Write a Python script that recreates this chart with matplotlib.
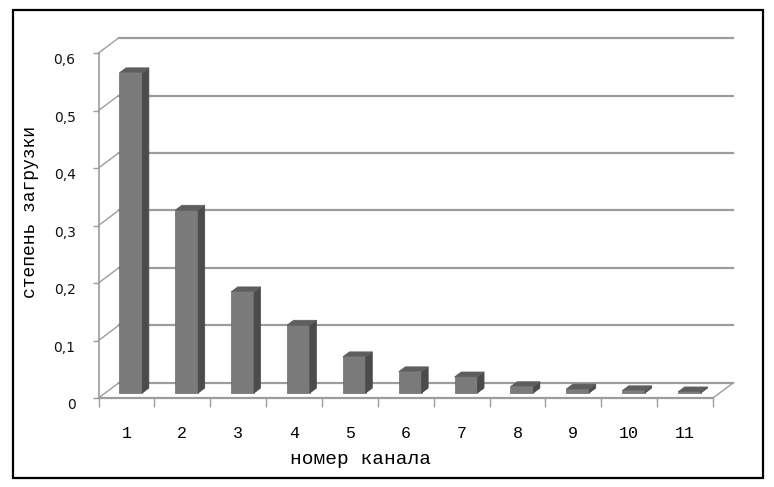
import matplotlib.pyplot as plt
from matplotlib.patches import Polygon, Rectangle

# -------------- data --------------
channels = list(range(1, 12))
load = [0.557, 0.318, 0.176, 0.118, 0.063, 0.037, 0.028, 0.011, 0.007, 0.004, 0.002]
y_ticks = [0, 0.1, 0.2, 0.3, 0.4, 0.5, 0.6]
y_labels = ['0', '0,1', '0,2', '0,3', '0,4', '0,5', '0,6']

# -------------- pseudo 3d settings --------------
DX = 0.358      # depth shift in category units
DY = 0.0261     # depth shift in value units
bar_w = 0.41
f0, f1 = 0.33, 0.66   # bar front / back depth fraction
grid_c = '#9c9c9c'

fig = plt.figure(figsize=(7.74, 4.87), dpi=100)
ax = fig.add_axes([0.1273, 0.18275, 0.7939, 0.7084])
ax.set_xlim(0.5, 11.5)
ax.set_ylim(0, 0.6)
ax.patch.set_alpha(0)
for s in ['top', 'right', 'bottom']:
    ax.spines[s].set_visible(False)
ax.spines['left'].set_color(grid_c)
ax.spines['left'].set_linewidth(1.2)

# back wall gridlines + side wall diagonals
for v in y_ticks:
    ax.plot([0.5 + DX, 11.5 + DX], [v + DY, v + DY], color=grid_c, lw=1.6, clip_on=False, zorder=1)
    ax.plot([0.5, 0.5 + DX], [v, v + DY], color=grid_c, lw=1.0, clip_on=False, zorder=1)

# floor edges
ax.plot([0.5, 11.5], [0, 0], color=grid_c, lw=1.6, clip_on=False, zorder=1)
ax.plot([11.5, 11.5 + DX], [0, DY], color=grid_c, lw=1.0, clip_on=False, zorder=1)

# bars
for c, v in zip(channels, load):
    x0 = c - bar_w / 2 - 0.04 + f0 * DX
    x1 = x0 + bar_w
    y0 = f0 * DY
    ddx = (f1 - f0) * DX
    ddy = (f1 - f0) * DY
    front = Polygon([(x0, y0), (x1, y0), (x1, y0 + v), (x0, y0 + v)], closed=True,
                    facecolor='#7a7a7a', edgecolor='#6a6a6a', lw=0.5, zorder=3, clip_on=False)
    side = Polygon([(x1, y0), (x1 + ddx, y0 + ddy), (x1 + ddx, y0 + ddy + v), (x1, y0 + v)], closed=True,
                   facecolor='#4b4b4b', edgecolor='#4b4b4b', lw=0.5, zorder=3, clip_on=False)
    top = Polygon([(x0, y0 + v), (x1, y0 + v), (x1 + ddx, y0 + ddy + v), (x0 + ddx, y0 + ddy + v)], closed=True,
                  facecolor='#5e5e5e', edgecolor='#5e5e5e', lw=0.5, zorder=3, clip_on=False)
    ax.add_patch(front)
    ax.add_patch(side)
    ax.add_patch(top)

# ticks
ax.set_yticks(y_ticks)
ax.set_yticklabels(y_labels, fontsize=10, family='DejaVu Sans', color='#111111')
ax.tick_params(axis='y', direction='out', length=4.5, width=1, color=grid_c, pad=12)
for lab in ax.get_yticklabels():
    lab.set_va('top')
ax.set_xticks(channels)
ax.set_xticklabels([str(c) for c in channels], fontsize=12, family='Liberation Mono')
ax.set_xticks([c + 0.5 for c in [0] + channels], minor=True)
ax.tick_params(axis='x', which='major', length=0, pad=20)
ax.tick_params(axis='x', which='minor', direction='out', length=6.5, width=1, color=grid_c)

# labels
fig.text(360 / 774, 1 - 460 / 487, 'номер канала', fontsize=14, family='Liberation Mono',
         ha='center', va='center')
fig.text(31 / 774, 1 - 212 / 487, 'степень загрузки', fontsize=13, family='Liberation Mono',
         ha='center', va='center', rotation=90)

# outer frame
fig.patches.append(Rectangle((13 / 774, 1 - 478 / 487), 750 / 774, 468 / 487,
                             transform=fig.transFigure, fill=False, edgecolor='black', lw=1.6))

fig.savefig('out.png', dpi=100)
